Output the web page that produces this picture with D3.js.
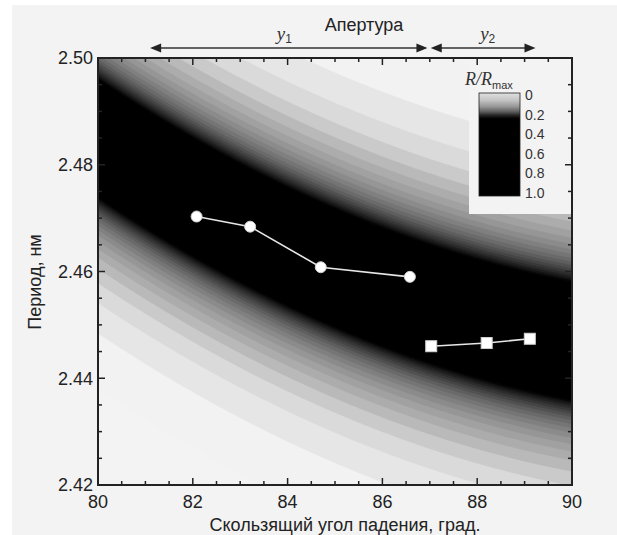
<!DOCTYPE html>
<html><head><meta charset="utf-8">
<script src="https://cdn.jsdelivr.net/npm/d3@7"></script>
<style>html,body{margin:0;padding:0;background:#fff;}svg{display:block;}</style>
</head><body>
<script>
// ---- data ----
const xDomain = [80, 90];
const yDomain = [2.42, 2.50];
const xTicks = [80, 82, 84, 86, 88, 90];
const yTicks = [2.42, 2.44, 2.46, 2.48, 2.50];
const yTickLabels = ["2.42", "2.44", "2.46", "2.48", "2.50"];
const circleAngle = [82.08, 83.21, 84.70, 86.58];
const circlePeriod = [2.4703, 2.4684, 2.4608, 2.4590];
const squareAngle = [87.03, 88.20, 89.11];
const squarePeriod = [2.4460, 2.4466, 2.4474];
const apertureNames = ["1", "2"];
const apertureFrom = [81.1, 87.02];
const apertureTo = [86.95, 89.23];
const legendTicks = [0, 0.2, 0.4, 0.6, 0.8, 1.0];
const legendTickLabels = ["0", "0.2", "0.4", "0.6", "0.8", "1.0"];
// reflectivity ridge (Bragg band) parameters
const ridgeVertexAngle = 94;
const ridgeMinPeriod = 2.4436;
const ridgeCurvature = 0.000211;
const ridgeHalfWidth = 0.0067;
// grey levels of the contour map vs R/Rmax
const greyStopsR = [0.0, 0.025, 0.05, 0.08, 0.17, 0.27];
const greyStopsV = [243, 243, 220, 180, 100, 0];
const contourLevels = d3.range(0.02, 0.28, 0.0125);

const W = 617, H = 535;
const svg = d3.select("body").append("svg").attr("width", W).attr("height", H)
  .style("font-family", "'Liberation Sans', Arial, sans-serif");

svg.append("rect").attr("x", 0).attr("y", 0).attr("width", W).attr("height", H).attr("fill", "#fff");
svg.append("rect").attr("x", 12).attr("y", 5).attr("width", W - 12).attr("height", H - 5).attr("fill", "#f3f3f3");

const L = 98, R = 572, T = 58, B = 485;
const xs = d3.scaleLinear().domain(xDomain).range([L, R]);
const ys = d3.scaleLinear().domain(yDomain).range([B, T]);
const greyScale = d3.scaleLinear().domain(greyStopsR).range(greyStopsV).clamp(true);
const grey = v => { const g = Math.round(greyScale(v)); return `rgb(${g},${g},${g})`; };

// ---- contour map ----
const nx = 240, ny = 200;
const values = new Array(nx * ny);
for (let j = 0; j < ny; j++) {
  const p = yDomain[1] - (j + 0.5) / ny * (yDomain[1] - yDomain[0]);
  for (let i = 0; i < nx; i++) {
    const a = xDomain[0] + (i + 0.5) / nx * (xDomain[1] - xDomain[0]);
    const c = ridgeMinPeriod + ridgeCurvature * (a - ridgeVertexAngle) ** 2;
    const u = (p - c) / ridgeHalfWidth;
    values[j * nx + i] = 1 / (1 + u * u);
  }
}
const contours = d3.contours().size([nx, ny]).thresholds(contourLevels)(values);
const proj = d3.geoTransform({
  point: function (x, y) {
    this.stream.point(xs(xDomain[0] + x / nx * (xDomain[1] - xDomain[0])),
                      ys(yDomain[1] - y / ny * (yDomain[1] - yDomain[0])));
  }
});
const path = d3.geoPath(proj);
svg.append("clipPath").attr("id", "clip").append("rect")
  .attr("x", L).attr("y", T).attr("width", R - L).attr("height", B - T);
const gMap = svg.append("g").attr("clip-path", "url(#clip)");
gMap.append("rect").attr("x", L).attr("y", T).attr("width", R - L).attr("height", B - T).attr("fill", grey(0));
contours.forEach((c, k) => {
  const next = k + 1 < contourLevels.length ? contourLevels[k + 1] : 1;
  const col = k === contourLevels.length - 1 ? "#000" : grey((c.value + next) / 2);
  gMap.append("path").attr("d", path(c)).attr("fill", col).attr("stroke", col).attr("stroke-width", 0.3);
});

// ---- data series ----
const line = d3.line().x(d => xs(d[0])).y(d => ys(d[1]));
const circ = circleAngle.map((a, i) => [a, circlePeriod[i]]);
const sq = squareAngle.map((a, i) => [a, squarePeriod[i]]);
[circ, sq].forEach(s => svg.append("path").attr("d", line(s)).attr("fill", "none")
  .attr("stroke", "#e6e6e6").attr("stroke-width", 1.6));
svg.selectAll("circle.pt").data(circ).enter().append("circle")
  .attr("cx", d => xs(d[0])).attr("cy", d => ys(d[1])).attr("r", 5.5)
  .attr("fill", "#fff").attr("stroke", "#d0d0d0").attr("stroke-width", 1);
svg.selectAll("rect.pt").data(sq).enter().append("rect")
  .attr("x", d => xs(d[0]) - 5.5).attr("y", d => ys(d[1]) - 5.5).attr("width", 11).attr("height", 11)
  .attr("fill", "#fff").attr("stroke", "#d0d0d0").attr("stroke-width", 1);

// ---- legend ----
svg.append("rect").attr("x", 469).attr("y", T).attr("width", R - 469).attr("height", 156).attr("fill", "#f3f3f3");
const ls = d3.scaleLinear().domain([0, 1]).range([95, 193]);
const defs = svg.append("defs");
const grad = defs.append("linearGradient").attr("id", "lg").attr("x1", 0).attr("x2", 0).attr("y1", 0).attr("y2", 1);
[[0, "#e0e0e0"], [0.07, "#c4c4c4"], [0.13, "#989898"], [0.18, "#606060"], [0.22, "#202020"], [0.25, "#000"], [1, "#000"]]
  .forEach(s => grad.append("stop").attr("offset", s[0]).attr("stop-color", s[1]));
svg.append("rect").attr("x", 479).attr("y", ls(0) - 2).attr("width", 41).attr("height", ls(1) - ls(0) + 5)
  .attr("fill", "url(#lg)").attr("stroke", "#222").attr("stroke-width", 0.8);
svg.selectAll("text.lt").data(legendTicks).enter().append("text")
  .attr("x", 525).attr("y", d => ls(d)).attr("dy", "0.35em").attr("font-size", 14).attr("fill", "#333")
  .text((d, i) => legendTickLabels[i]);
const lt = svg.append("text").attr("x", 465).attr("y", 85).attr("fill", "#333");
lt.append("tspan").attr("font-family", "'Liberation Serif', serif").attr("font-style", "italic").attr("font-size", 18).text("R/R");
lt.append("tspan").attr("font-size", 11).attr("dy", 4).text("max");

// ---- frame & ticks ----
const gAx = svg.append("g").attr("stroke", "#222");
const xMinor = d3.range(xDomain[0], xDomain[1] + 0.001, 0.5);
const yMinor = d3.range(0, 17).map(i => yDomain[0] + i * 0.005);
xMinor.forEach(v => {
  const major = xTicks.some(t => Math.abs(t - v) < 1e-6);
  const len = major ? 7 : 4;
  gAx.append("line").attr("x1", xs(v)).attr("x2", xs(v)).attr("y1", B).attr("y2", B - len).attr("stroke-width", 1.5);
  gAx.append("line").attr("x1", xs(v)).attr("x2", xs(v)).attr("y1", T).attr("y2", T + len).attr("stroke-width", 1.5);
});
yMinor.forEach(v => {
  const major = yTicks.some(t => Math.abs(t - v) < 1e-6);
  const len = major ? 7 : 4;
  gAx.append("line").attr("y1", ys(v)).attr("y2", ys(v)).attr("x1", L).attr("x2", L + len).attr("stroke-width", 1.5);
  gAx.append("line").attr("y1", ys(v)).attr("y2", ys(v)).attr("x1", R).attr("x2", R - len).attr("stroke-width", 1.5);
});
svg.append("rect").attr("x", L).attr("y", T).attr("width", R - L).attr("height", B - T)
  .attr("fill", "none").attr("stroke", "#222").attr("stroke-width", 2);

svg.selectAll("text.xt").data(xTicks).enter().append("text")
  .attr("x", d => xs(d)).attr("y", 508).attr("text-anchor", "middle").attr("font-size", 18).attr("fill", "#222")
  .text(d => d);
svg.selectAll("text.yt").data(yTicks).enter().append("text")
  .attr("x", 93).attr("y", d => ys(d)).attr("dy", "0.36em").attr("text-anchor", "end").attr("font-size", 18).attr("fill", "#222")
  .text((d, i) => yTickLabels[i]);

svg.append("text").attr("x", (L + R) / 2 + 10).attr("y", 531).attr("text-anchor", "middle").attr("font-size", 18)
  .attr("fill", "#222").text("Скользящий угол падения, град.");
svg.append("text").attr("transform", "translate(41,282) rotate(-90)").attr("text-anchor", "middle").attr("font-size", 18)
  .attr("fill", "#222").text("Период, нм");

// ---- aperture arrows ----
svg.append("text").attr("x", 364).attr("y", 31).attr("text-anchor", "middle").attr("font-size", 18).attr("fill", "#222").text("Апертура");
const ay = 48, ah = 11, aw = 4.5;
apertureFrom.forEach((f, i) => {
  const x0 = xs(f), x1 = xs(apertureTo[i]);
  svg.append("line").attr("x1", x0 + ah - 1).attr("x2", x1 - ah + 1).attr("y1", ay).attr("y2", ay)
    .attr("stroke", "#333").attr("stroke-width", 1.5);
  svg.append("path").attr("d", `M${x0},${ay}L${x0 + ah},${ay - aw}L${x0 + ah},${ay + aw}Z`).attr("fill", "#222");
  svg.append("path").attr("d", `M${x1},${ay}L${x1 - ah},${ay - aw}L${x1 - ah},${ay + aw}Z`).attr("fill", "#222");
  const t = svg.append("text").attr("x", (x0 + x1) / 2 - (i === 0 ? 12 : 3)).attr("y", 40).attr("fill", "#333");
  t.append("tspan").attr("font-family", "'Liberation Serif', serif").attr("font-style", "italic").attr("font-size", 19).text("y");
  t.append("tspan").attr("font-size", 12).attr("dy", 3).text(apertureNames[i]);
});
</script>
</body></html>
